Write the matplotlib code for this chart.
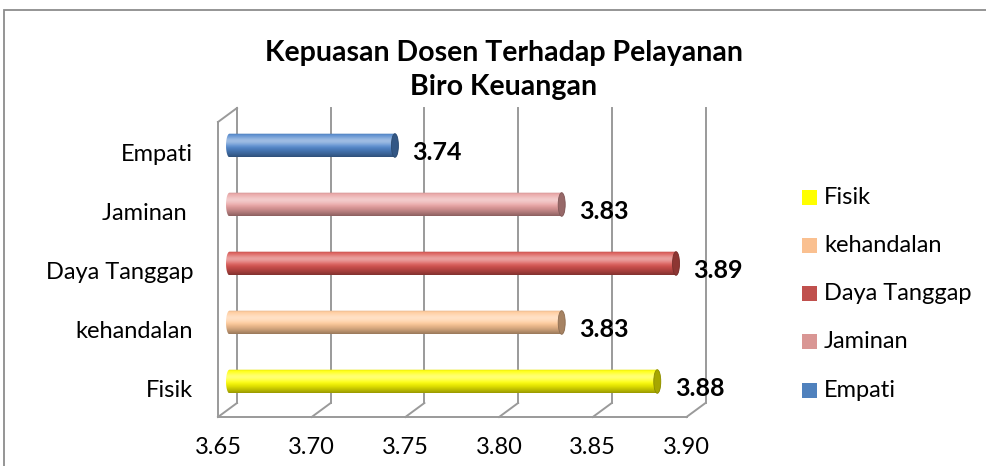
import numpy as np
import matplotlib
matplotlib.use("Agg")
import matplotlib.pyplot as plt
import matplotlib.transforms as mtransforms
from matplotlib.patches import Rectangle, Ellipse, PathPatch
from matplotlib.path import Path
from matplotlib.colors import to_rgb

# ---------------- data ----------------
categories = ["Fisik", "kehandalan", "Daya Tanggap", "Jaminan ", "Empati"]
legend_labels = ["Fisik", "kehandalan", "Daya Tanggap", "Jaminan", "Empati"]
values = [3.882, 3.831, 3.892, 3.831, 3.742]
bar_colors = ["#FFFF00", "#FFC896", "#D9534F", "#E8A0A0", "#4F86CC"]
legend_colors = ["#FFFF00", "#FAC090", "#C0504D", "#D99694", "#4F81BD"]
xticks = [3.65, 3.70, 3.75, 3.80, 3.85, 3.90]
title = "Kepuasan Dosen Terhadap Pelayanan\nBiro Keuangan"

W, H = 987, 466
FONT = "Lato"
fig = plt.figure(figsize=(W / 100, H / 100), dpi=100)

# bar plane in pixels
L, R, T, B = 226, 694.5, 116, 411
ax = fig.add_axes([L / W, 1 - B / H, (R - L) / W, (B - T) / H])
xmin, xmax = xticks[0], xticks[-1]
ax.set_xlim(xmin, xmax)
ax.set_ylim(-0.5, len(categories) - 0.5)
ax.axis("off")

pxx = (xmax - xmin) / (R - L)          # data per pixel in x
pxy = len(categories) / (B - T)        # data per pixel in y

bdx, bdy = 11 * pxx, 8 * pxy           # back plane offset
fdx, fdy = -8 * pxx, -6 * pxy          # front plane offset
grid_c = "#9a9a9a"
ylo, yhi = -0.5, len(categories) - 0.5

for t in xticks:
    ax.plot([t + bdx, t + bdx], [ylo + bdy, yhi + bdy], color=grid_c, lw=1.4,
            clip_on=False, zorder=1)
    ax.plot([t + fdx, t + bdx], [ylo + fdy, ylo + bdy], color=grid_c, lw=1.4,
            clip_on=False, zorder=1)
ax.plot([xmin + fdx, xmax + fdx], [ylo + fdy, ylo + fdy], color=grid_c, lw=1.4,
        clip_on=False, zorder=1)
ax.plot([xmin + fdx, xmin + fdx], [ylo + fdy, yhi + fdy], color=grid_c, lw=1.4,
        clip_on=False, zorder=1)
ax.plot([xmin + fdx, xmin + bdx], [yhi + fdy, yhi + bdy], color=grid_c, lw=1.4,
        clip_on=False, zorder=1)

# cylinder bars
h = 0.40
rx = 3.5 * pxx
tt = np.linspace(0, 1, 64)
wmix = 0.45 * np.exp(-((tt - 0.32) / 0.2) ** 2)
kmix = np.clip((tt - 0.5) / 0.5, 0, 1) ** 1.4 * 0.40 + np.clip((0.08 - tt) / 0.08, 0, 1) * 0.12
for i, (v, c) in enumerate(zip(values, bar_colors)):
    base = np.array(to_rgb(c))
    grad = base[None, :] * (1 - wmix[:, None]) + wmix[:, None]
    grad = grad * (1 - kmix[:, None])
    img = grad[:, None, :]
    x0 = xmin
    theta = np.linspace(np.pi / 2, 3 * np.pi / 2, 30)
    left = np.c_[x0 + rx + rx * np.cos(theta), i + h / 2 * np.sin(theta)]
    theta2 = np.linspace(-np.pi / 2, np.pi / 2, 30)
    right = np.c_[v - rx + rx * np.cos(theta2), i + h / 2 * np.sin(theta2)]
    verts = np.vstack([left, right, left[:1]])
    codes = [Path.MOVETO] + [Path.LINETO] * (len(verts) - 2) + [Path.CLOSEPOLY]
    patch = PathPatch(Path(verts, codes), transform=ax.transData, facecolor="none",
                      edgecolor="none")
    ax.add_patch(patch)
    im = ax.imshow(img, extent=(x0, v, i - h / 2, i + h / 2), aspect="auto",
                   origin="upper", interpolation="bilinear", zorder=3)
    im.set_clip_path(patch)
    cap = base * 0.65
    ax.add_patch(Ellipse((v - rx, i), 2 * rx, h, facecolor=cap,
                         edgecolor=base * 0.55, lw=0.6, zorder=4))
    ax.text(v, i, f"{v:.2f}", fontsize=18, fontweight="bold", family=FONT,
            ha="left", va="center", zorder=5,
            transform=mtransforms.offset_copy(ax.transData, fig=fig, x=14, y=-7,
                                              units="dots"))

ax.set_xlim(xmin, xmax)
ax.set_ylim(-0.5, len(categories) - 0.5)

for i, cat in enumerate(categories):
    ax.text(xmin, i, cat, fontsize=17, family=FONT, ha="right", va="center",
            transform=mtransforms.offset_copy(ax.transData, fig=fig, x=-33, y=-9,
                                              units="dots"))
for t in xticks:
    ax.text(t, ylo, f"{t:.2f}", fontsize=17, family=FONT, ha="center", va="center",
            transform=mtransforms.offset_copy(ax.transData, fig=fig, x=-8, y=-36,
                                              units="dots"))

fig.text(504 / W, 1 - 70 / H, title, fontsize=20.5, fontweight="bold", family=FONT,
         ha="center", va="center", linespacing=1.35)

for k, (lab, c) in enumerate(zip(legend_labels, legend_colors)):
    yc = 197 + k * 48.3
    fig.add_artist(Rectangle((802 / W, 1 - (yc + 7.5) / H), 15 / W, 15 / H,
                             facecolor=c, edgecolor="none", transform=fig.transFigure))
    fig.text(824 / W, 1 - yc / H, lab, fontsize=17, family=FONT, ha="left",
             va="center")

fig.add_artist(Rectangle((4 / W, -0.2), 1.2, 1.2 - 10 / H, facecolor="none",
                         edgecolor="#8c8c8c", lw=1.3, transform=fig.transFigure,
                         clip_on=False))

fig.savefig("out.png", dpi=100)
